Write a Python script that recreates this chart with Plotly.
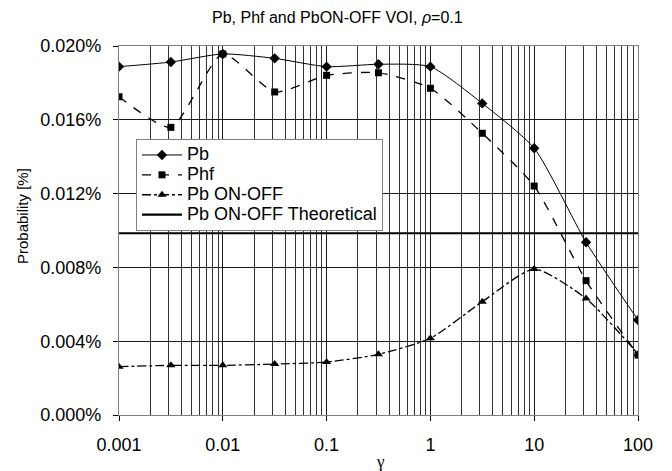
import plotly.graph_objects as go

gamma = [0.001, 0.00316, 0.01, 0.0316, 0.1, 0.316, 1, 3.16, 10, 31.6, 100]
pb = [0.01888, 0.01913, 0.01957, 0.01933, 0.01888, 0.01901, 0.01888, 0.01689, 0.01446, 0.00936, 0.00515]
phf = [0.01725, 0.01559, 0.01957, 0.01751, 0.01841, 0.01855, 0.01771, 0.01527, 0.01241, 0.00728, 0.00325]
pb_onoff = [0.00262, 0.00269, 0.00269, 0.00276, 0.00287, 0.00329, 0.00416, 0.00614, 0.00791, 0.00631, 0.00331]
pb_theoretical = 0.00985
series_names = ["Pb", "Phf", "Pb ON-OFF", "Pb ON-OFF Theoretical"]
x_ticks = [0.001, 0.01, 0.1, 1, 10, 100]
x_ticklabels = ["0.001", "0.01", "0.1", "1", "10", "100"]
y_ticks = [0.0, 0.004, 0.008, 0.012, 0.016, 0.020]

to_frac = lambda v: [p / 100 for p in v]
big = lambda s: '<span style="font-size:18px">' + s + '</span>'

W, H = 672, 471
L, R, T, B = 119, 34, 46, 56
pw, ph = W - L - R, H - T - B


def px_to_paper(x, y):
    return (x - L) / pw, (H - B - y) / ph


fig = go.Figure()
fig.add_trace(go.Scatter(x=gamma, y=to_frac(pb), name=big(series_names[0]), mode="lines+markers",
                         line=dict(color="black", width=1, shape="spline", smoothing=0.6),
                         marker=dict(symbol="diamond", size=8, color="black")))
fig.add_trace(go.Scatter(x=gamma, y=to_frac(phf), name=big(series_names[1]), mode="lines+markers",
                         line=dict(color="black", width=1.3, dash="dash", shape="spline", smoothing=0.6),
                         marker=dict(symbol="square", size=7, color="black")))
fig.add_trace(go.Scatter(x=gamma, y=to_frac(pb_onoff), name=big(series_names[2]), mode="lines+markers",
                         line=dict(color="black", width=1.3, dash="dashdot", shape="spline", smoothing=0.6),
                         marker=dict(symbol="triangle-up", size=8, color="black")))
fig.add_trace(go.Scatter(x=[gamma[0], gamma[-1]], y=to_frac([pb_theoretical, pb_theoretical]),
                         name=big(series_names[3]), mode="lines",
                         line=dict(color="black", width=2.2)))

ytx, yty = px_to_paper(23, 216)
xtx, xty = px_to_paper(380, 462)
lgx, lgy = px_to_paper(136, 139)

fig.update_layout(
    width=W, height=H,
    margin=dict(l=L, r=R, t=T, b=B),
    paper_bgcolor="white", plot_bgcolor="white",
    font=dict(family="Liberation Sans, Arial", size=18, color="black"),
    title=dict(text="Pb, Phf and PbON-OFF VOI, <i>ρ</i>=0.1", x=0.502, xanchor="center",
               y=0.963, yanchor="middle", font=dict(size=16)),
    legend=dict(x=lgx, y=lgy, xanchor="left", yanchor="top",
                bgcolor="white", bordercolor="#808080", borderwidth=1,
                font=dict(size=13), tracegroupgap=0, itemwidth=40),
    showlegend=True,
    annotations=[
        dict(text="Probability [%]", textangle=-90, x=ytx, y=yty, xref="paper", yref="paper",
             xanchor="center", yanchor="middle", showarrow=False, font=dict(size=15)),
        dict(text="γ", x=xtx, y=xty, xref="paper", yref="paper",
             xanchor="center", yanchor="middle", showarrow=False,
             font=dict(size=17, family="Liberation Serif")),
    ],
)

fig.update_xaxes(type="log", range=[-3, 2], tickvals=x_ticks, ticktext=x_ticklabels,
                 showgrid=True, gridcolor="#1a1a1a", gridwidth=1,
                 minor=dict(dtick="D1", showgrid=True, gridcolor="#333333", gridwidth=1, ticks=""),
                 ticks="outside", ticklen=5, tickcolor="black", ticklabelstandoff=8,
                 showline=True, linecolor="#808080", mirror=True, zeroline=False, automargin=False)
fig.update_yaxes(range=[0, 0.0002], tickvals=[v / 100 for v in y_ticks], tickformat=".3%",
                 showgrid=True, gridcolor="#1a1a1a", gridwidth=1,
                 ticks="outside", ticklen=5, tickcolor="black", ticklabelstandoff=8,
                 showline=True, linecolor="#808080", mirror=True, zeroline=False, automargin=False)

fig.write_html("out.html")
